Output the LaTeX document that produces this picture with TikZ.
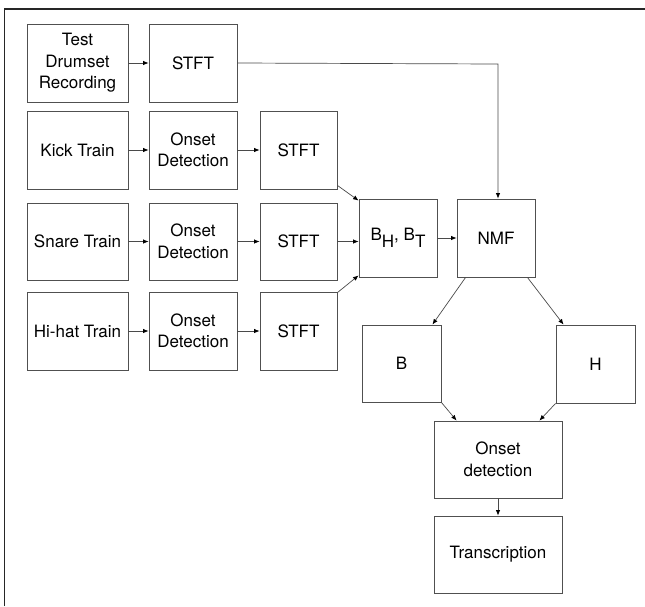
\documentclass[tikz,border=0pt]{standalone}
\usepackage{fontspec}
\setmainfont{TeX Gyre Heros}
\usetikzlibrary{arrows.meta}
\definecolor{boxline}{HTML}{505050}
\definecolor{conn}{HTML}{4A4A4A}
\begin{document}
\begin{tikzpicture}[x=1pt,y=-1pt,
  blk/.style={draw=boxline,line width=0.9pt,inner sep=0pt,align=center,
    font=\fontsize{17}{21.5}\selectfont,text=black},
  conn/.style={draw=conn,line width=0.7pt,-{Latex[length=5.5pt,width=4.5pt,color=black]}}]
\useasboundingbox (0,0) rectangle (645,606);
\draw[line width=1.2pt,color=black!85] (4.5,606) -- (4.5,9) -- (645,9);
% column 1
\node[blk,minimum width=101pt,minimum height=78pt] (test) at (77.5,63) {Test\\Drumset\\Recording};
\node[blk,minimum width=101pt,minimum height=78pt] (kick) at (77.5,150) {Kick Train};
\node[blk,minimum width=101pt,minimum height=77pt] (snare) at (77.5,241.5) {Snare Train};
\node[blk,minimum width=101pt,minimum height=78pt] (hihat) at (77.5,331) {Hi-hat Train};
% column 2
\node[blk,minimum width=88pt,minimum height=78pt] (stft0) at (193,63) {STFT};
\node[blk,minimum width=88pt,minimum height=78pt] (on1) at (193,150) {Onset\\Detection};
\node[blk,minimum width=88pt,minimum height=77pt] (on2) at (193,241.5) {Onset\\Detection};
\node[blk,minimum width=88pt,minimum height=78pt] (on3) at (193,331) {Onset\\Detection};
% column 3
\node[blk,minimum width=77pt,minimum height=78pt] (stftk) at (298.5,150) {STFT};
\node[blk,minimum width=77pt,minimum height=77pt] (stfts) at (298.5,241.5) {STFT};
\node[blk,minimum width=77pt,minimum height=78pt] (stfth) at (298.5,331) {STFT};
% middle
\node[blk,minimum width=78pt,minimum height=78pt] (bh) at (398,238) {B\raisebox{-7pt}{H}, B\raisebox{-7pt}{T}};
\node[blk,minimum width=78pt,minimum height=78pt] (nmf) at (496,238) {NMF};
\node[blk,minimum width=79pt,minimum height=77pt] (b) at (401.5,363.5) {B};
\node[blk,minimum width=79pt,minimum height=78pt] (h) at (595.5,364) {H};
\node[blk,minimum width=128pt,minimum height=77pt] (od) at (498,459.5) {Onset\\detection};
\node[blk,minimum width=128pt,minimum height=77pt] (tr) at (498,554.5) {Transcription};
\coordinate (turn) at (498,64);
% connectors
\draw[conn] (test) -- (stft0);
\draw[conn] (kick) -- (on1);
\draw[conn] (snare) -- (on2);
\draw[conn] (hihat) -- (on3);
\draw[conn] (on1) -- (stftk);
\draw[conn] (on2) -- (stfts);
\draw[conn] (on3) -- (stfth);
\draw[conn] (stft0.east) -- (turn) -- (turn |- nmf.north);
\draw[conn] ([yshift=4pt]stftk.south east) -- ([yshift=-2pt]bh.north west);
\draw[conn] (stfts.east) -- (stfts.east -| bh.west);
\draw[conn] ([yshift=-1pt]stfth.north east) -- ([yshift=2pt]bh.south west);
\draw[conn] (bh) -- (nmf);
\draw[conn] ([xshift=9pt]nmf.south west) -- ([xshift=-9pt]b.north east);
\draw[conn] ([xshift=-8pt]nmf.south east) -- ([xshift=8pt]h.north west);
\draw[conn] (b.south east) -- ([xshift=23pt]od.north west);
\draw[conn] (h.south west) -- ([xshift=-23pt]od.north east);
\draw[conn] (od) -- (tr);
\end{tikzpicture}
\end{document}
